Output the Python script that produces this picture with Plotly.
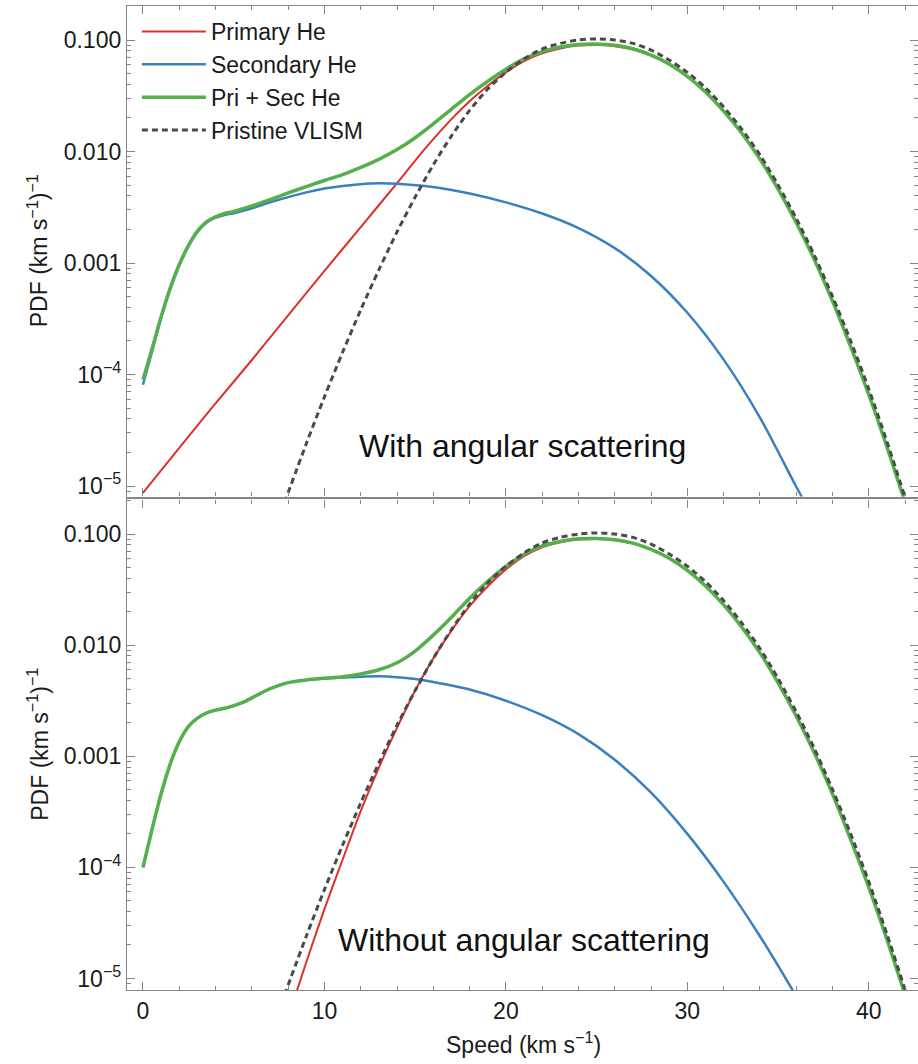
import plotly.graph_objects as go

# ---------------- data ----------------
# Pristine VLISM (same in both panels)
v_vlism = [7.8, 9, 10, 11, 12, 13, 14, 15, 16, 17, 18, 19, 20, 21, 22, 23, 24, 25,
           26, 27, 28, 29, 30, 31, 32, 33, 34, 35, 36, 37, 38, 39, 40, 41, 42, 42.7]
pdf_vlism = [7.1e-6, 2.4e-5, 6.3e-5, 1.58e-4, 3.8e-4, 8.7e-4, 1.9e-3, 3.9e-3, 7.6e-3,
             0.0138, 0.0234, 0.0363, 0.0513, 0.0676, 0.0832, 0.0933, 0.100, 0.1023,
             0.100, 0.0933, 0.0813, 0.0661, 0.0513, 0.0372, 0.0251, 0.0158, 0.00933,
             0.00501, 0.00251, 0.00117, 5.01e-4, 2.0e-4, 7.4e-5, 2.5e-5, 7.9e-6, 3.5e-6]

# Top panel: with angular scattering
v_pri_top = [0, 2, 4, 6, 8, 10, 12, 14, 15, 16, 17, 18, 19, 20, 21, 22, 23, 24, 25,
             26, 27, 28, 29, 30, 31, 32, 33, 34, 35, 36, 37, 38, 39, 40, 41, 42, 42.7]
pdf_pri_top = [8.7e-6, 2.2e-5, 5.5e-5, 1.35e-4, 3.4e-4, 8.5e-4, 2.1e-3, 5.2e-3, 8.3e-3,
               0.0129, 0.0195, 0.0282, 0.0389, 0.0513, 0.0646, 0.0759, 0.0841, 0.0891,
               0.0902, 0.0881, 0.0822, 0.0724, 0.0603, 0.0468, 0.0339, 0.0229, 0.0145,
               0.00851, 0.00457, 0.00229, 0.00107, 4.57e-4, 1.78e-4, 6.6e-5, 2.24e-5,
               7.1e-6, 3.2e-6]

v_sec_top = [0, 0.5, 1, 1.5, 2, 2.5, 3, 3.5, 4, 4.5, 5, 6, 7, 8, 9, 10, 11, 12, 13, 14,
             16, 18, 20, 22, 24, 26, 28, 30, 32, 34, 36, 37]
pdf_sec_top = [8.1e-5, 1.6e-4, 3.2e-4, 5.8e-4, 9.5e-4, 1.4e-3, 1.9e-3, 2.3e-3, 2.55e-3,
               2.7e-3, 2.8e-3, 3.1e-3, 3.5e-3, 3.9e-3, 4.3e-3, 4.65e-3, 4.9e-3, 5.1e-3,
               5.2e-3, 5.15e-3, 4.8e-3, 4.2e-3, 3.5e-3, 2.78e-3, 2.06e-3, 1.36e-3,
               7.66e-4, 3.58e-4, 1.36e-4, 4.11e-5, 9.86e-6, 5.0e-6]

v_sum_top = [0, 0.5, 1, 1.5, 2, 2.5, 3, 3.5, 4, 4.5, 5, 6, 7, 8, 9, 10, 11, 12, 13, 14,
             15, 16, 17, 18, 19, 20, 21, 22, 23, 24, 25, 26, 27, 28, 29, 30, 31, 32, 33,
             34, 35, 36, 37, 38, 39, 40, 41, 42, 42.7]
pdf_sum_top = [9.0e-5, 1.7e-4, 3.3e-4, 5.95e-4, 9.7e-4, 1.43e-3, 1.93e-3, 2.34e-3, 2.6e-3,
               2.78e-3, 2.9e-3, 3.25e-3, 3.7e-3, 4.25e-3, 4.85e-3, 5.5e-3, 6.2e-3, 7.2e-3,
               8.5e-3, 0.0104, 0.0133, 0.0177, 0.024, 0.0324, 0.0427, 0.0548, 0.0678,
               0.0787, 0.0865, 0.0912, 0.092, 0.0896, 0.0834, 0.0733, 0.061, 0.0472,
               0.0342, 0.0230, 0.0146, 0.00855, 0.00459, 0.0023, 0.00107, 4.57e-4,
               1.78e-4, 6.6e-5, 2.24e-5, 7.1e-6, 3.2e-6]

# Bottom panel: without angular scattering
v_pri_bot = [8.3, 9, 10, 11, 12, 13, 14, 15, 16, 17, 18, 19, 20, 21, 22, 23, 24, 25,
             26, 27, 28, 29, 30, 31, 32, 33, 34, 35, 36, 37, 38, 39, 40, 41, 42, 42.7]
pdf_pri_bot = [6.3e-6, 1.4e-5, 4.2e-5, 1.17e-4, 3.2e-4, 7.9e-4, 1.8e-3, 3.9e-3, 7.6e-3,
               0.0135, 0.0224, 0.0339, 0.0479, 0.0631, 0.0759, 0.0841, 0.0891, 0.0902,
               0.0881, 0.0822, 0.0724, 0.0603, 0.0468, 0.0339, 0.0229, 0.0145, 0.00851,
               0.00457, 0.00229, 0.00107, 4.57e-4, 1.78e-4, 6.6e-5, 2.24e-5, 7.1e-6, 3.2e-6]

v_sec_bot = [0, 0.5, 1, 1.5, 2, 2.5, 3, 3.5, 4, 4.5, 5, 5.5, 6, 6.5, 7, 7.5, 8, 9, 10,
             11, 12, 13, 14, 15, 16, 18, 20, 22, 24, 26, 28, 30, 32, 34, 35.5, 36.5]
pdf_sec_bot = [1.0e-4, 2.2e-4, 4.6e-4, 8.5e-4, 1.35e-3, 1.85e-3, 2.2e-3, 2.45e-3, 2.6e-3,
               2.7e-3, 2.85e-3, 3.05e-3, 3.35e-3, 3.7e-3, 4.05e-3, 4.35e-3, 4.6e-3,
               4.85e-3, 5.0e-3, 5.1e-3, 5.2e-3, 5.25e-3, 5.15e-3, 4.95e-3, 4.65e-3,
               3.98e-3, 3.16e-3, 2.34e-3, 1.58e-3, 9.3e-4, 4.7e-4, 2.0e-4, 7.4e-5, 2.4e-5,
               9.5e-6, 5.0e-6]

v_sum_bot = [0, 0.5, 1, 1.5, 2, 2.5, 3, 3.5, 4, 4.5, 5, 5.5, 6, 6.5, 7, 7.5, 8, 9, 10,
             11, 12, 13, 14, 15, 16, 17, 18, 19, 20, 21, 22, 23, 24, 25, 26, 27, 28, 29,
             30, 31, 32, 33, 34, 35, 36, 37, 38, 39, 40, 41, 42, 42.7]
pdf_sum_bot = [1.0e-4, 2.2e-4, 4.6e-4, 8.5e-4, 1.35e-3, 1.85e-3, 2.2e-3, 2.45e-3, 2.6e-3,
               2.7e-3, 2.85e-3, 3.05e-3, 3.35e-3, 3.7e-3, 4.05e-3, 4.35e-3, 4.6e-3,
               4.86e-3, 5.04e-3, 5.2e-3, 5.5e-3, 6.0e-3, 6.95e-3, 8.85e-3, 0.0123,
               0.0178, 0.0264, 0.0375, 0.051, 0.0658, 0.0782, 0.0858, 0.0905, 0.0912,
               0.0890, 0.0829, 0.0728, 0.0606, 0.0470, 0.0340, 0.0230, 0.0145, 0.00852,
               0.00457, 0.00229, 0.00107, 4.57e-4, 1.78e-4, 6.6e-5, 2.24e-5, 7.1e-6, 3.2e-6]

names = ["Primary He", "Secondary He", "Pri + Sec He", "Pristine VLISM"]
colors = ["#dd3128", "#3a7fbf", "#55b04c", "#4a4a4a"]
widths = [2, 2.5, 3.5, 3]

x_ticks = [0, 10, 20, 30, 40]
x_minor = [2, 4, 6, 8, 12, 14, 16, 18, 22, 24, 26, 28, 32, 34, 36, 38, 42]
y_ticks = [1e-5, 1e-4, 1e-3, 1e-2, 1e-1]
y_ticktext = ["10<sup>\u22125</sup>", "10<sup>\u22124</sup>", "0.001", "0.010", "0.100"]
y_minor = [m * 10.0 ** e for e in range(-6, 0) for m in range(2, 10)]

panel_labels = ["With angular scattering", "Without angular scattering"]

# ---------------- figure ----------------
fig = go.Figure()
FONT = "Liberation Sans, Arial, sans-serif"

panels = [
    ("x", "y", [(v_pri_top, pdf_pri_top), (v_sec_top, pdf_sec_top),
                (v_sum_top, pdf_sum_top), (v_vlism, pdf_vlism)]),
    ("x2", "y2", [(v_pri_bot, pdf_pri_bot), (v_sec_bot, pdf_sec_bot),
                  (v_sum_bot, pdf_sum_bot), (v_vlism, pdf_vlism)]),
]
for pi, (xa, ya, series) in enumerate(panels):
    for k, (vx, vy) in enumerate(series):
        fig.add_trace(go.Scatter(
            x=vx, y=vy, mode="lines", name=names[k],
            line=dict(color=colors[k], width=widths[k],
                      dash="6px,4px" if k == 3 else "solid",
                      shape="spline", smoothing=0.8),
            xaxis=xa, yaxis=ya, showlegend=(pi == 0), cliponaxis=True,
        ))

axcol = "#858585"
TICKFONT = dict(family=FONT, size=23, color="#1a1a1a")
common_x = dict(range=[-0.88, 42.71], tickvals=x_ticks, ticks="inside", ticklen=8,
                tickwidth=1.2, tickcolor=axcol, showline=True, linecolor=axcol,
                linewidth=1.3, mirror="ticks", showgrid=False, zeroline=False,
                minor=dict(tickvals=x_minor, ticks="inside", ticklen=4, tickwidth=1.1,
                           tickcolor=axcol, showgrid=False),
                tickfont=TICKFONT)
common_y = dict(type="log", tickvals=y_ticks, ticktext=y_ticktext, ticks="inside",
                ticklen=8, tickwidth=1.2, tickcolor=axcol, showline=True,
                linecolor=axcol, linewidth=1.3, mirror="ticks", showgrid=False,
                zeroline=False,
                minor=dict(tickvals=y_minor, ticks="inside", ticklen=4, tickwidth=1.1,
                           tickcolor=axcol, showgrid=False),
                tickfont=TICKFONT)

fig.update_layout(
    width=918, height=1064,
    margin=dict(l=127, r=0, t=6, b=74),
    paper_bgcolor="white", plot_bgcolor="white",
    font=dict(family=FONT, color="#1a1a1a"),
    xaxis=dict(common_x, domain=[0, 1], anchor="y", showticklabels=False),
    yaxis=dict(common_y, domain=[0.5015, 1], anchor="x", range=[-5.094, -0.695]),
    xaxis2=dict(common_x, domain=[0, 1], anchor="y2", showticklabels=True),
    yaxis2=dict(common_y, domain=[0, 0.4985], anchor="x2", range=[-5.104, -0.689]),
    legend=dict(x=0.0125, y=0.996, xanchor="left", yanchor="top",
                bgcolor="rgba(0,0,0,0)", itemwidth=64,
                font=dict(family=FONT, size=23, color="#1a1a1a"),
                tracegroupgap=0),
    showlegend=True,
)

ytitle = "PDF (km s<sup>\u22121</sup>)<sup>\u22121</sup>"
TITLEFONT = dict(family=FONT, size=23, color="#1a1a1a")
ann = [
    dict(text=panel_labels[0], xref="x", yref="y domain", x=20.9, y=0.103,
         xanchor="center", yanchor="middle",
         showarrow=False, font=dict(family=FONT, size=32, color="#111")),
    dict(text=panel_labels[1], xref="x2", yref="y2 domain", x=21.0, y=0.102,
         xanchor="center", yanchor="middle",
         showarrow=False, font=dict(family=FONT, size=32, color="#111")),
    dict(text=ytitle, xref="paper", yref="y domain", x=0, xshift=-89, y=0.5,
         xanchor="center", yanchor="middle",
         textangle=-90, showarrow=False, font=TITLEFONT),
    dict(text=ytitle, xref="paper", yref="y2 domain", x=0, xshift=-89, y=0.5,
         xanchor="center", yanchor="middle",
         textangle=-90, showarrow=False, font=TITLEFONT),
    dict(text="Speed (km s<sup>\u22121</sup>)", xref="paper", yref="paper", x=0.501,
         y=0, yshift=-53, xanchor="center", yanchor="middle", showarrow=False,
         font=TITLEFONT),
]
fig.update_layout(annotations=ann)

fig.write_html("out.html")
